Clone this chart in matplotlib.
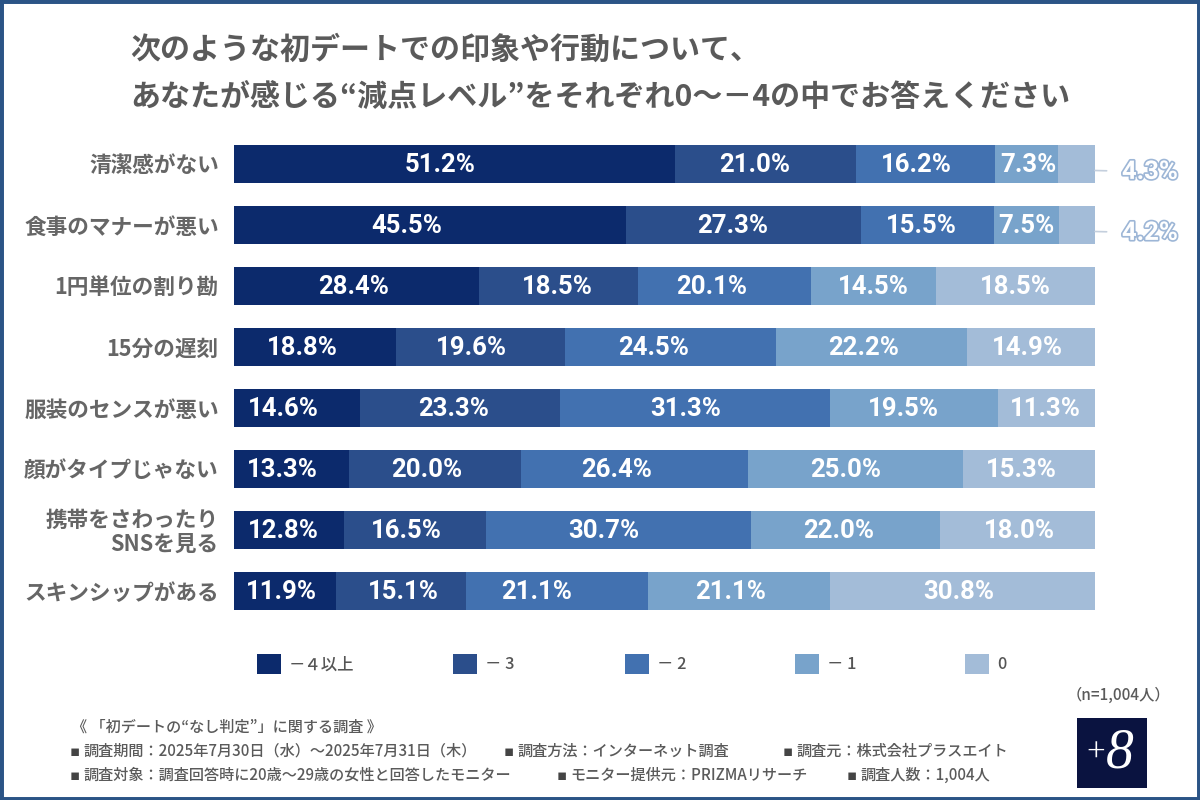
import matplotlib
matplotlib.use("Agg")
import matplotlib.pyplot as plt
from matplotlib.patches import Rectangle, Patch
from matplotlib.transforms import ScaledTranslation
import matplotlib.patheffects as pe

plt.rcParams['font.family'] = ['Noto Sans CJK JP', 'DejaVu Sans']

categories = ['清潔感がない', '食事のマナーが悪い', '1円単位の割り勘', '15分の遅刻',
              '服装のセンスが悪い', '顔がタイプじゃない', '携帯をさわったり\nSNSを見る', 'スキンシップがある']
series_names = ['－４以上', '－ 3', '－ 2', '－ 1', '0']
minus4 = [51.2, 45.5, 28.4, 18.8, 14.6, 13.3, 12.8, 11.9]
minus3 = [21.0, 27.3, 18.5, 19.6, 23.3, 20.0, 16.5, 15.1]
minus2 = [16.2, 15.5, 20.1, 24.5, 31.3, 26.4, 30.7, 21.1]
minus1 = [7.3, 7.5, 14.5, 22.2, 19.5, 25.0, 22.0, 21.1]
zero = [4.3, 4.2, 18.5, 14.9, 11.3, 15.3, 18.0, 30.8]
series = [minus4, minus3, minus2, minus1, zero]

colors = ['#0c2a6c', '#2b4e8b', '#4271b0', '#78a3cb', '#a3bcd8']
label_shift_px = [
    [-14, -11, -9, 2, 0], [-23, -11, -6, 0, 0], [-3, -1, -13, 0, 0], [-13, -9, -17, -8, -3],
    [-13, -6, -9, -10, -1], [-9, -8, -18, -10, -8], [-6, -9, -15, -7, 2], [-4, 2, -21, -8, -4],
]
legend_x_px = [257, 453, 625, 795, 965]
VALUE_FONT = 'Roboto'
GREY = '#5a5a5a'

fig = plt.figure(figsize=(12, 8), dpi=100, facecolor='white')
W, H = 1200, 800
fx = lambda x: x / W
fy = lambda y: 1 - y / H

ax = fig.add_axes([fx(234), fy(621), 861 / W, 488 / H])
ax.set_xlim(0, 100)
ax.set_ylim(7.5, -0.5)

for j, vals in enumerate(series):
    left = [0.0] * len(vals)
    for k in range(j):
        left = [a + b for a, b in zip(left, series[k])]
    total = [sum(s[i] for s in series) for i in range(len(vals))]
    widths = [v * 100 / t for v, t in zip(vals, total)]
    lefts = [l * 100 / t for l, t in zip(left, total)]
    ax.barh(range(len(vals)), widths, left=lefts, height=38 / 61, color=colors[j],
            linewidth=0, label=series_names[j])
    for i, v in enumerate(vals):
        if v < 5:
            t = ax.annotate(f'{v:.1f}%', xy=(100, i + 7 / 61), xycoords='data',
                            xytext=(55 * 0.72, -1), textcoords='offset points',
                            ha='center', va='center', fontsize=18.5, fontweight='bold',
                            family=VALUE_FONT, color='white',
                            arrowprops=dict(arrowstyle='-', color='#c4cfdd', lw=1.2,
                                            shrinkA=9, shrinkB=0))
            t.set_path_effects([pe.withStroke(linewidth=2.4, foreground='#9db6d6')])
            t.arrow_patch.set_path_effects([])
        else:
            ax.annotate(f'{v:.1f}%', xy=(lefts[i] + widths[i] / 2, i),
                        xytext=(label_shift_px[i][j] * 0.72, -1), textcoords='offset points',
                        ha='center', va='center', fontsize=18.5, fontweight='bold',
                        family=VALUE_FONT, color='white')

ax.set_yticks(range(len(categories)))
ax.set_yticklabels(categories, fontsize=15.6, fontweight='bold', color='#666666', linespacing=1.05)
down = ScaledTranslation(0, -2 / 100, fig.dpi_scale_trans)
for lab in ax.get_yticklabels():
    lab.set_multialignment('right')
    lab.set_transform(lab.get_transform() + down)
ax.tick_params(axis='y', length=0, pad=11)
ax.set_xticks([])
for s in ax.spines.values():
    s.set_visible(False)

for name, c, xp in zip(series_names, colors, legend_x_px):
    fig.legend(handles=[Patch(facecolor=c, label=name)], loc='center left',
               bbox_to_anchor=(fx(xp), fy(664)), frameon=False,
               handlelength=1.46, handleheight=1.52, handletextpad=0.5,
               labelcolor='#555555', borderpad=0, borderaxespad=0,
               prop=dict(family=['Noto Sans CJK JP', 'DejaVu Sans'], size=11.8, weight='medium'))

fig.text(fx(130), fy(50), '次のような初デートでの印象や行動について、', fontsize=21.6, fontweight='bold',
         color=GREY, ha='left', va='center')
fig.text(fx(130), fy(97), 'あなたが感じる“減点レベル”をそれぞれ0～－4の中でお答えください', fontsize=21.6,
         fontweight='bold', color=GREY, ha='left', va='center')

foot = dict(fontsize=10.9, fontweight='medium', color=GREY, ha='left', va='center')


def foot_item(x, y, txt):
    fig.text(fx(x - 2), fy(y), '▪', fontsize=10.9, color='#444444', family='DejaVu Sans',
             ha='left', va='center')
    fig.text(fx(x + 11), fy(y), txt, **foot)


fig.text(fx(72), fy(727), '《 「初デートの“なし判定”」に関する調査 》', **foot)
foot_item(72, 751, '調査期間：2025年7月30日（水）～2025年7月31日（木）')
foot_item(506, 751, '調査方法：インターネット調査')
foot_item(785, 751, '調査元：株式会社プラスエイト')
foot_item(72, 775, '調査対象：調査回答時に20歳～29歳の女性と回答したモニター')
foot_item(559, 775, 'モニター提供元：PRIZMAリサーチ')
foot_item(849, 775, '調査人数：1,004人')
fig.text(fx(1118), fy(695), '（n=1,004人）', fontsize=11, fontweight='medium', color=GREY,
         ha='center', va='center')

fig.add_artist(Rectangle((fx(1077), fy(788)), 70 / W, 70 / H, transform=fig.transFigure,
                         facecolor='#0a1340', edgecolor='none'))
fig.text(fx(1096), fy(754), '+', fontsize=24, color='white', family='Liberation Serif',
         ha='center', va='center')
fig.text(fx(1120), fy(753), '8', fontsize=40, color='white', family='Liberation Serif',
         style='italic', ha='center', va='center')

fig.add_artist(Rectangle((0, 0), 1, 1, transform=fig.transFigure, facecolor='none',
                         edgecolor='#2b5486', linewidth=5))

fig.savefig('out.png', dpi=100)
